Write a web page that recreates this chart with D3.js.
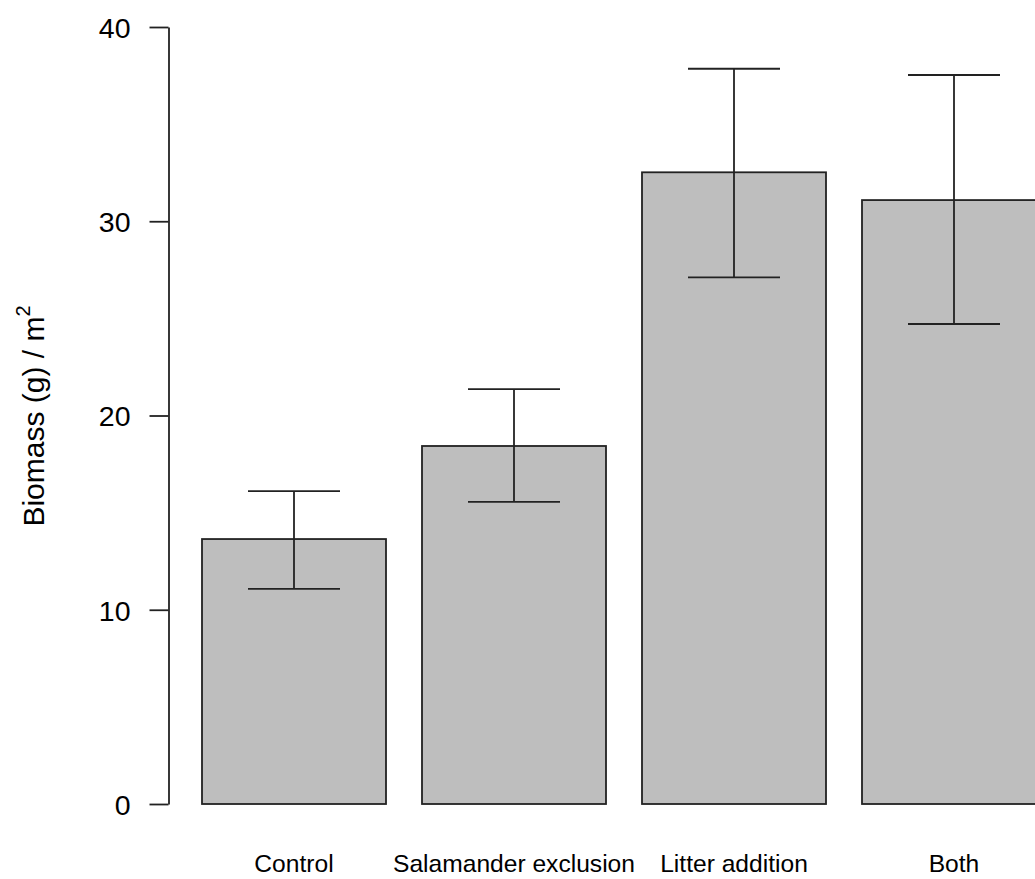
<!DOCTYPE html>
<html>
<head>
<meta charset="utf-8">
<script src="https://cdn.jsdelivr.net/npm/d3@7"></script>
<style>
html,body{margin:0;padding:0;background:#fff;}
svg{display:block;font-family:"Liberation Sans",Arial,sans-serif;}
</style>
</head>
<body>
<svg id="chart" width="1035" height="879"></svg>
<script>
const categories = ["Control", "Salamander exclusion", "Litter addition", "Both"];
const means = [13.64, 18.43, 32.52, 31.09];
const upper = [16.11, 21.36, 37.85, 37.53];
const lower = [11.07, 15.55, 27.11, 24.71];
const yTicks = [0, 10, 20, 30, 40];

const svg = d3.select("#chart");
const y = d3.scaleLinear().domain([0, 40]).range([804, 27]);
const x = d3.scaleBand().domain(categories).range([184, 1064])
  .paddingInner(36 / 220).paddingOuter(18 / 220);

const stroke = "#222";

// bars
svg.append("g").selectAll("rect").data(categories).join("rect")
  .attr("x", d => x(d))
  .attr("y", (d, i) => y(means[i]))
  .attr("width", x.bandwidth())
  .attr("height", (d, i) => y(0) - y(means[i]))
  .attr("fill", "#bebebe")
  .attr("stroke", stroke)
  .attr("stroke-width", 1.8);

// error bars
const eg = svg.append("g").attr("stroke", stroke).attr("stroke-width", 1.8);
categories.forEach((c, i) => {
  const cx = x(c) + x.bandwidth() / 2;
  const hw = x.bandwidth() / 4;
  eg.append("line").attr("x1", cx).attr("x2", cx).attr("y1", y(upper[i])).attr("y2", y(lower[i]));
  eg.append("line").attr("x1", cx - hw).attr("x2", cx + hw).attr("y1", y(upper[i])).attr("y2", y(upper[i]));
  eg.append("line").attr("x1", cx - hw).attr("x2", cx + hw).attr("y1", y(lower[i])).attr("y2", y(lower[i]));
});

// y axis
const yAxis = d3.axisLeft(y).tickValues(yTicks).tickSize(19).tickPadding(19).tickSizeOuter(0);
const ga = svg.append("g").attr("transform", "translate(168.5,0)").call(yAxis);
ga.select(".domain").attr("stroke", stroke).attr("stroke-width", 1.8);
ga.selectAll(".tick line").attr("stroke", stroke).attr("stroke-width", 1.8);
ga.selectAll(".tick text").attr("font-size", 28.5).attr("fill", "#000")
  .attr("font-family", '"Liberation Sans",Arial,sans-serif').attr("dy", "0.36em");

// category labels
svg.append("g").selectAll("text").data(categories).join("text")
  .attr("x", d => x(d) + x.bandwidth() / 2)
  .attr("y", 872)
  .attr("text-anchor", "middle")
  .attr("font-size", 24.6)
  .attr("fill", "#000")
  .text(d => d);

// y title
const t = svg.append("text")
  .attr("transform", "translate(44,416) rotate(-90)")
  .attr("text-anchor", "middle")
  .attr("font-size", 30)
  .attr("fill", "#000");
t.append("tspan").text("Biomass (g) / m");
t.append("tspan").attr("font-size", 20).attr("dy", "-0.7em").text("2");
</script>
</body>
</html>
